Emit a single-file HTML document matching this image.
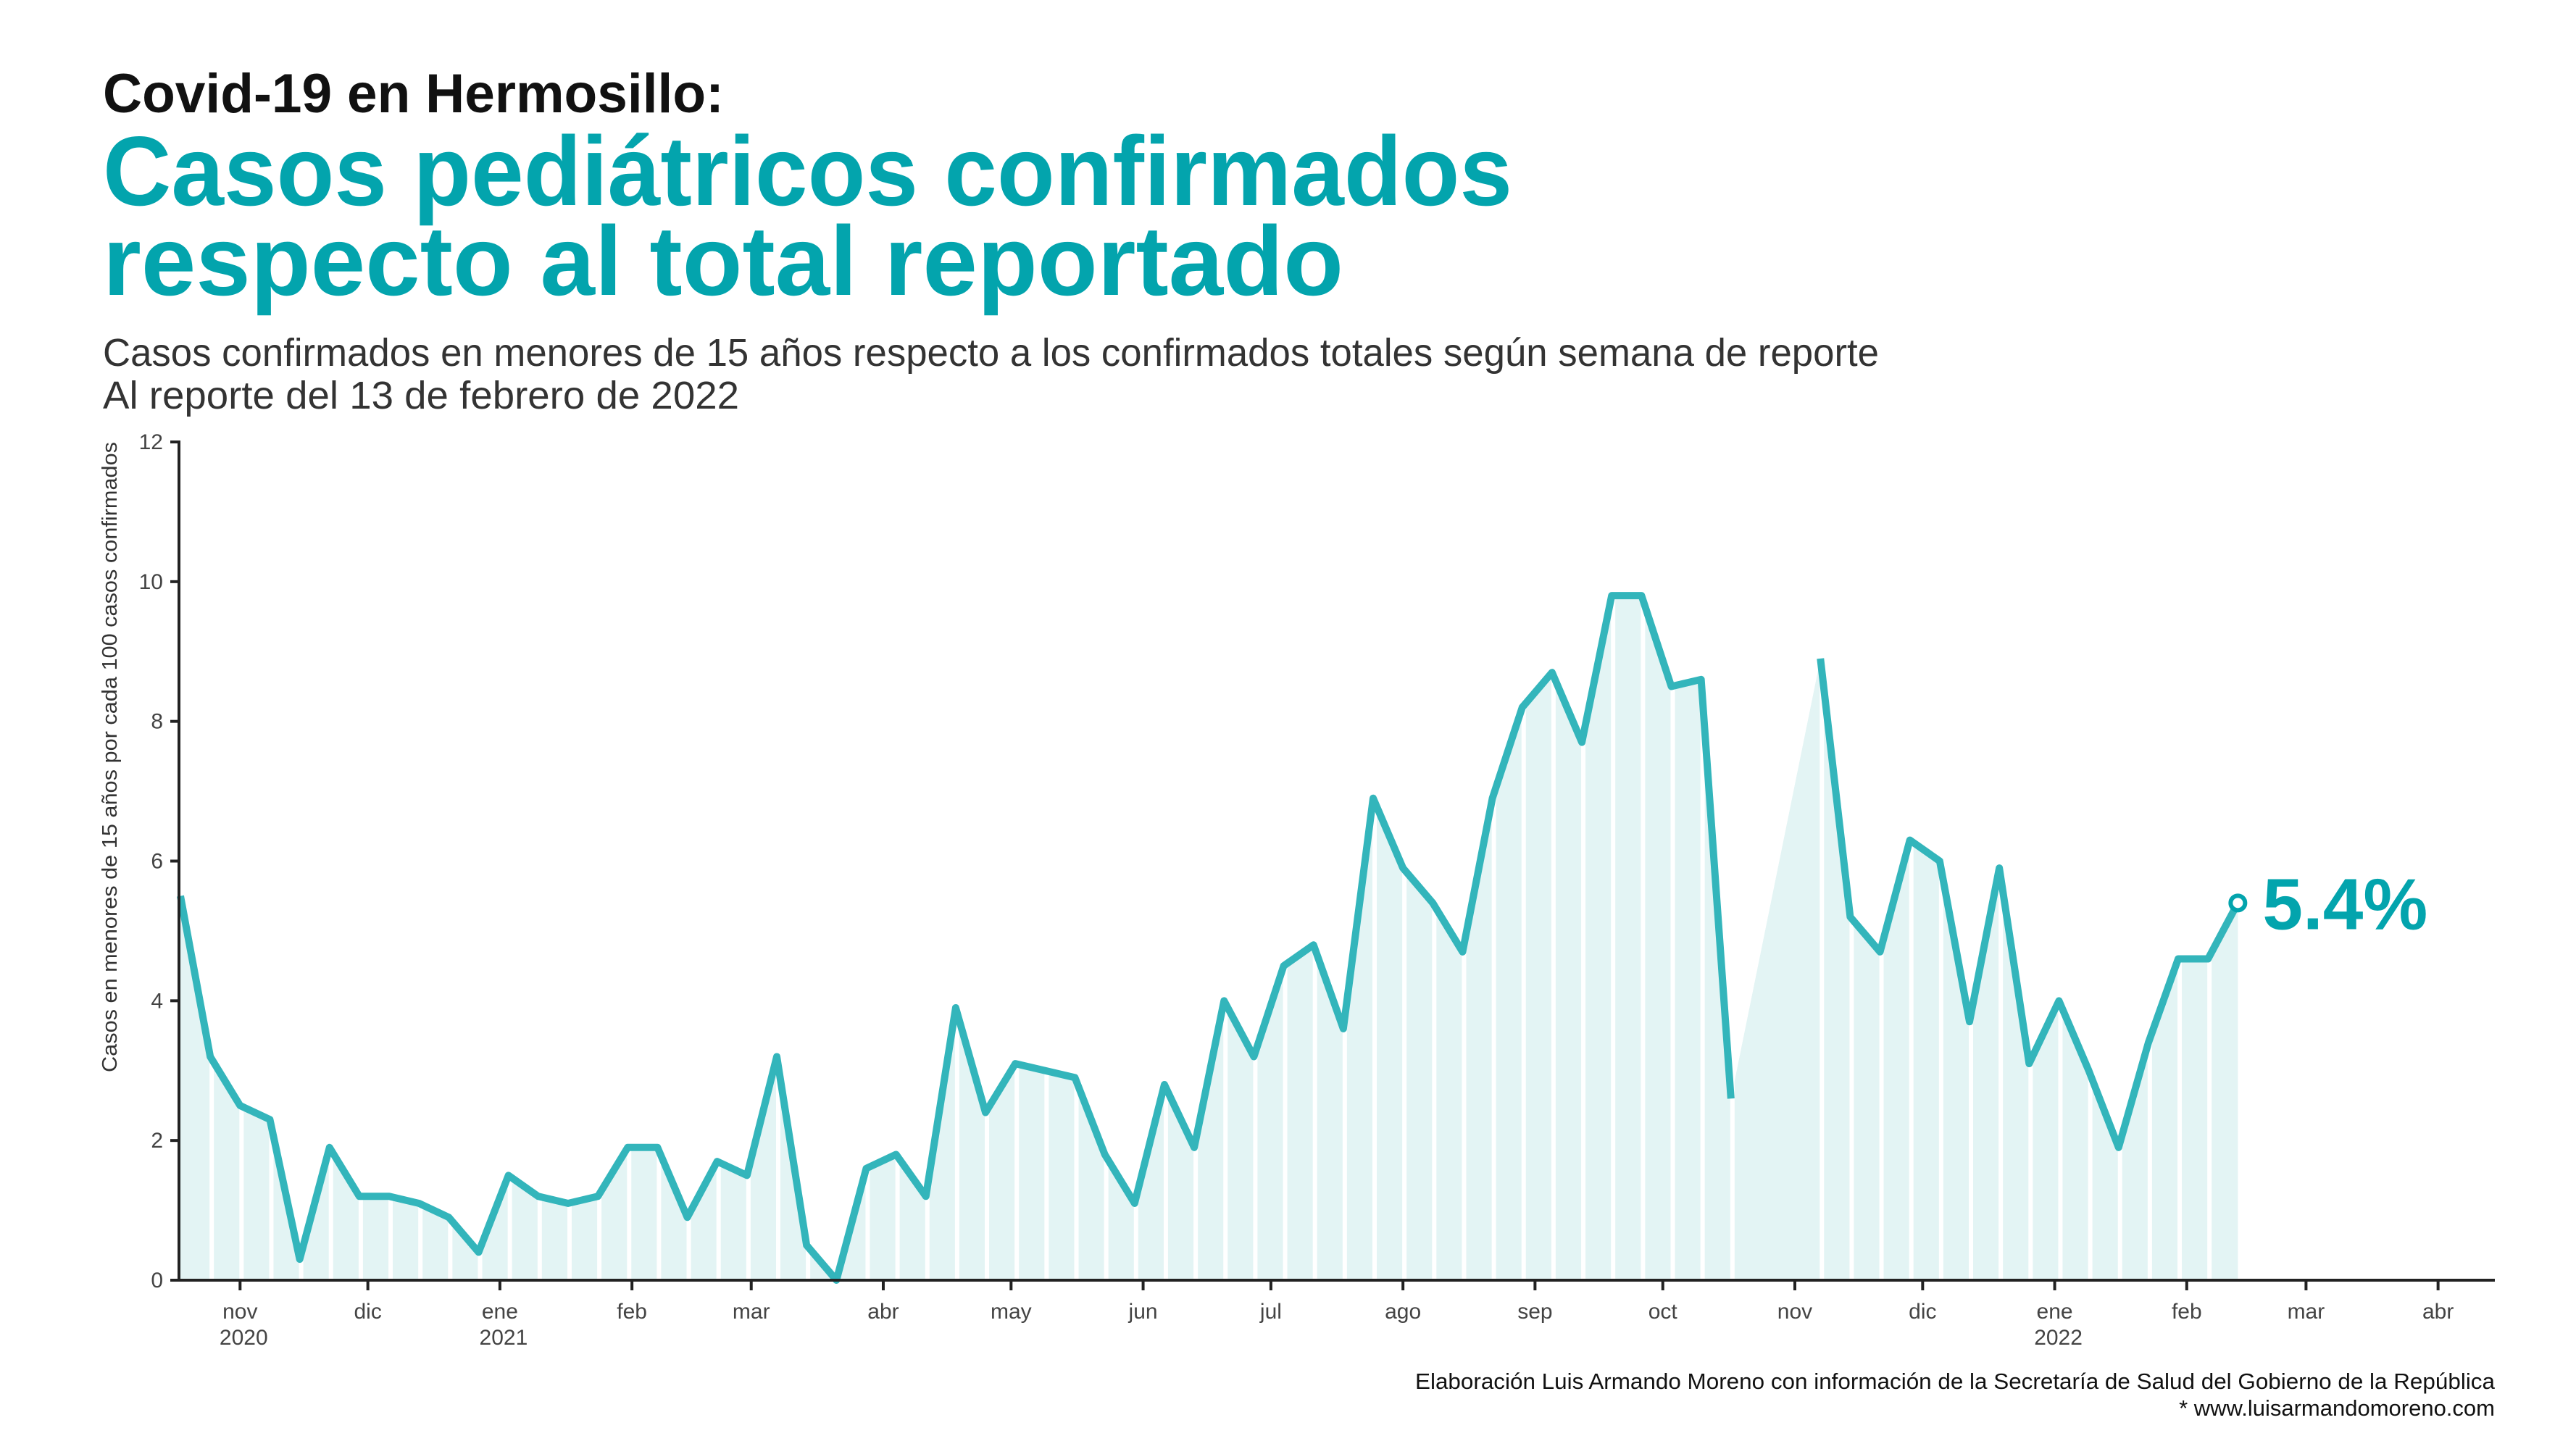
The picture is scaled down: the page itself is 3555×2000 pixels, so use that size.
<!DOCTYPE html>
<html><head><meta charset="utf-8">
<style>
html,body{margin:0;padding:0;background:#fff;}
svg{display:block;font-family:"Liberation Sans",sans-serif;}
</style></head>
<body>
<svg id="chart" width="3555" height="2000" viewBox="0 0 3555 2000" xmlns="http://www.w3.org/2000/svg">
<rect width="3555" height="2000" fill="#fff"/>
<g id="plot"></g>
<text x="142" y="155" font-size="76" font-weight="bold" fill="#111" textLength="857" lengthAdjust="spacingAndGlyphs">Covid-19 en Hermosillo:</text>
<text x="142" y="283" font-size="136" font-weight="bold" fill="#03a4ad" textLength="1945" lengthAdjust="spacingAndGlyphs">Casos pediátricos confirmados</text>
<text x="142" y="407" font-size="136" font-weight="bold" fill="#03a4ad" textLength="1712" lengthAdjust="spacingAndGlyphs">respecto al total reportado</text>
<text x="142" y="505" font-size="54" fill="#333" textLength="2451" lengthAdjust="spacingAndGlyphs">Casos confirmados en menores de 15 años respecto a los confirmados totales según semana de reporte</text>
<text x="142" y="564" font-size="54" fill="#333" textLength="878" lengthAdjust="spacingAndGlyphs">Al reporte del 13 de febrero de 2022</text>
<text transform="translate(161,1045) rotate(-90)" text-anchor="middle" font-size="29" fill="#333" textLength="870" lengthAdjust="spacingAndGlyphs">Casos en menores de 15 años por cada 100 casos confirmados</text>
<text x="3443" y="1917" text-anchor="end" font-size="31" fill="#111" textLength="1490" lengthAdjust="spacingAndGlyphs">Elaboración Luis Armando Moreno con información de la Secretaría de Salud del Gobierno de la República</text>
<text x="3443" y="1954" text-anchor="end" font-size="31" fill="#111">* www.luisarmandomoreno.com</text>
</svg>
<script>
// weekly values (null = missing), starting 2020-10-18, every 7 days
const values = [5.5,3.2,2.5,2.3,0.3,1.9,1.2,1.2,1.1,0.9,0.4,1.5,1.2,1.1,1.2,1.9,1.9,0.9,1.7,1.5,
 3.2,0.5,0.0,1.6,1.8,1.2,3.9,2.4,3.1,3.0,2.9,1.8,1.1,2.8,1.9,4.0,3.2,4.5,4.8,3.6,
 6.9,5.9,5.4,4.7,6.9,8.2,8.7,7.7,9.8,9.8,8.5,8.6,2.6,null,null,8.9,5.2,4.7,6.3,6.0,
 3.7,5.9,3.1,4.0,3.0,1.9,3.4,4.6,4.6,5.4];
const startDate = "2020-10-18";
const yTicks = [0,2,4,6,8,10,12];
const monthTicks = ["2020-11-01","2020-12-01","2021-01-01","2021-02-01","2021-03-01","2021-04-01","2021-05-01","2021-06-01","2021-07-01","2021-08-01","2021-09-01","2021-10-01","2021-11-01","2021-12-01","2022-01-01","2022-02-01","2022-03-01","2022-04-01"];
const monthLabels = ["nov","dic","ene","feb","mar","abr","may","jun","jul","ago","sep","oct","nov","dic","ene","feb","mar","abr"];
const yearLabels = ["2020","","2021","","","","","","","","","","","","2022","","",""];
const endLabel = "5.4%";

const NS="http://www.w3.org/2000/svg";
const g=document.getElementById('plot');
const t0=Date.parse(startDate);
const X0=249, PXDAY=41.15/7, AXR=3443;
const Y0=1767, PXU=(1767-610)/12;
const xd=d=>X0+(Date.parse(d)-t0)/86400000*PXDAY;
const xi=i=>X0+i*7*PXDAY;
const y=v=>Y0-v*PXU;
function mk(tag,attrs){const e=document.createElementNS(NS,tag);for(const k in attrs)e.setAttribute(k,attrs[k]);g.appendChild(e);return e;}

const valid=values.map((v,i)=>[i,v]).filter(p=>p[1]!==null);
let ad=`M${xi(valid[0][0])},${Y0}`;
valid.forEach(p=>{ad+=` L${xi(p[0])},${y(p[1])}`;});
ad+=` L${xi(valid[valid.length-1][0])},${Y0} Z`;
const area=mk('path',{d:ad,fill:'#e3f4f4'});


values.forEach((v,i)=>{
  if(i===0||i>=values.length-1||v===null) return;
  const s=mk('line',{x1:xi(i)+2,x2:xi(i)+2,y1:Y0,y2:y(12),stroke:'#fff','stroke-width':6});
  
  
});
let topd=`M${xi(0)},${y(12)-2}`;
valid.forEach(p=>{topd+=` L${xi(p[0])},${y(p[1])}`;});
topd+=` L${xi(valid[valid.length-1][0])},${y(12)-2} Z`;
const cover=mk('path',{d:topd,fill:'#fff'});



let ld='',pen=false;
values.forEach((v,i)=>{
  if(v===null){pen=false;return;}
  ld+=(pen?' L':' M')+xi(i)+','+y(v);pen=true;
});
const line=mk('path',{d:ld,fill:'none',stroke:'#33b5bb','stroke-width':10,'stroke-linejoin':'round'});



const li=values.length-1;
const dot=mk('circle',{cx:xi(li),cy:y(values[li]),r:10,fill:'#fff',stroke:'#03a4ad','stroke-width':6});


const lbl=mk('text',{x:xi(li)+34,y:y(values[li])+36,'font-size':100,'font-weight':'bold',fill:'#03a4ad'});


lbl.textContent=endLabel;

const ya=mk('line',{x1:X0-2,x2:X0-2,y1:y(12),y2:Y0+2,stroke:'#222','stroke-width':4});


const xa=mk('line',{x1:X0-4,x2:AXR,y1:Y0,y2:Y0,stroke:'#222','stroke-width':4});


yTicks.forEach(v=>{
  const tk=mk('line',{x1:X0-14,x2:X0,y1:y(v),y2:y(v),stroke:'#222','stroke-width':4});
  
  
  const t=mk('text',{x:X0-24,y:y(v)+10,'text-anchor':'end','font-size':30,fill:'#444'});
  
  
  t.textContent=v;
});
monthTicks.forEach((d,i)=>{
  const xx=xd(d);
  const tk=mk('line',{x1:xx,x2:xx,y1:Y0,y2:Y0+14,stroke:'#222','stroke-width':4});
  
  
  const t=mk('text',{x:xx,y:1820,'text-anchor':'middle','font-size':30,fill:'#444'});
  
  
  t.textContent=monthLabels[i];
  if(yearLabels[i]){
    const t2=mk('text',{x:xx+5,y:1856,'text-anchor':'middle','font-size':30,fill:'#444'});
    
    
    t2.textContent=yearLabels[i];
  }
});
</script>
</body></html>
